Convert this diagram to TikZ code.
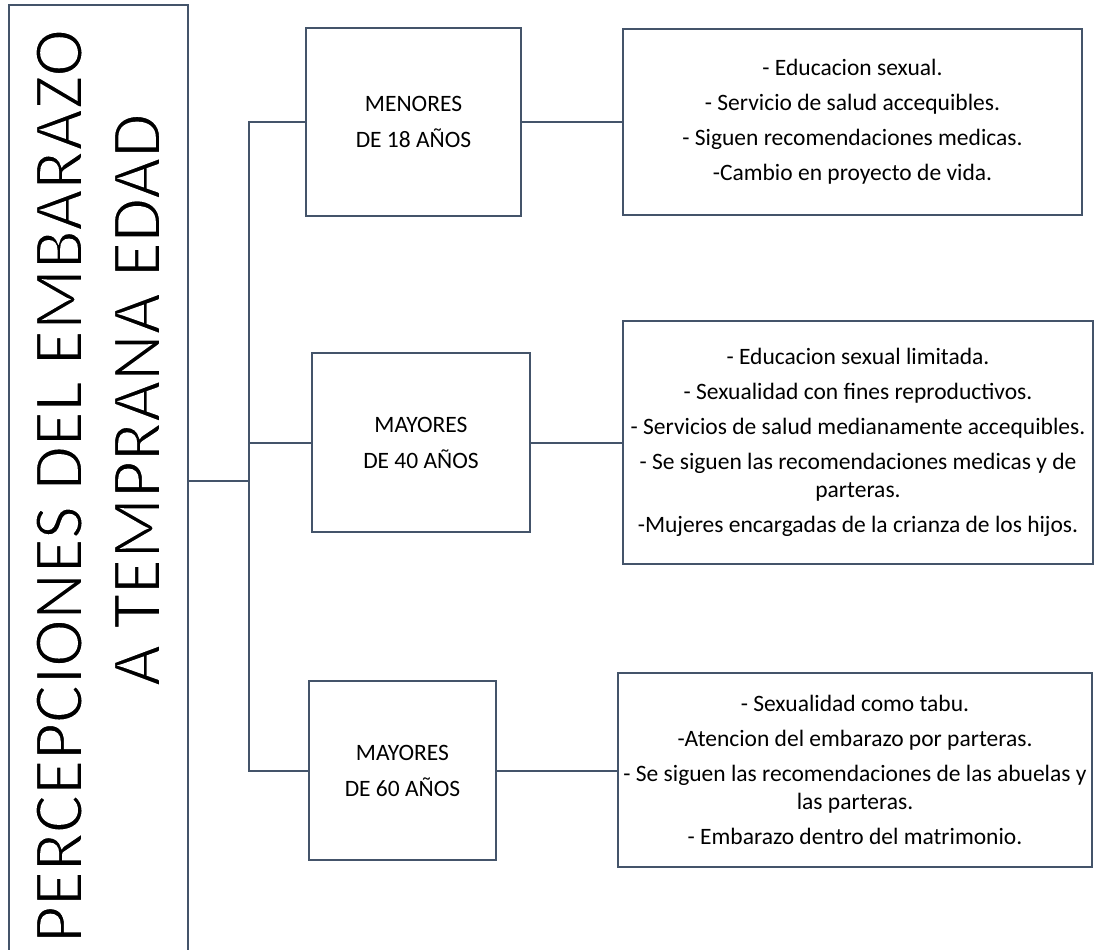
\documentclass[tikz,border=0pt]{standalone}
\usepackage{fontspec}
\setmainfont{Carlito}
\definecolor{frame}{HTML}{44546A}
\newcommand{\thintext}[1]{\special{pdf:literal direct 1 1 1 RG 1.8 w 2 Tr}#1\special{pdf:literal direct 0 Tr}}
\begin{document}
\begin{tikzpicture}[x=1pt,y=-1pt,
  box/.style={draw=frame,line width=2pt,inner sep=0pt,align=center,
    font=\fontsize{23.5}{28.7}\selectfont},
  title/.style={rotate=90,anchor=base,inner sep=0pt,
    font=\fontsize{71.5}{80}\selectfont},
  link/.style={draw=frame,line width=2pt}]
\useasboundingbox (0,0) rectangle (1101,950);
\clip (0,0) rectangle (1101,950);
% main title box
\node[box,minimum width=179pt,minimum height=952pt] (main) at (98.5,481) {};
\node[title] (t1) at (82,486) {\thintext{PERCEPCIONES DEL EMBARAZO}};
\node[title] (t2) at (160,400) {\thintext{A TEMPRANA EDAD}};
% age boxes
\node[box,minimum width=215pt,minimum height=188pt] (b1) at (413.5,122)
  {MENORES\\[7.3pt]DE 18 AÑOS};
\node[box,minimum width=218pt,minimum height=179pt] (b2) at (421,442.5)
  {MAYORES\\[7.3pt]DE 40 AÑOS};
\node[box,minimum width=187pt,minimum height=179pt] (b3) at (402.5,770.5)
  {MAYORES\\[7.3pt]DE 60 AÑOS};
% detail boxes
\node[box,minimum width=459pt,minimum height=186pt] (r1) at (852.5,122)
  {- Educacion sexual.\\[6.3pt]- Servicio de salud accequibles.\\[6.3pt]- Siguen recomendaciones medicas.\\[6.3pt]-Cambio en proyecto de vida.};
\node[box,minimum width=470pt,minimum height=243pt] (r2) at (858,442.5)
  {- Educacion sexual limitada.\\[6.3pt]- Sexualidad con fines reproductivos.\\[6.3pt]- Servicios de salud medianamente accequibles.\\[6.3pt]- Se siguen las recomendaciones medicas y de\\parteras.\\[6.3pt]-Mujeres encargadas de la crianza de los hijos.};
\node[box,minimum width=474pt,minimum height=194pt] (r3) at (855,770)
  {- Sexualidad como tabu.\\[6.3pt]-Atencion del embarazo por parteras.\\[6.3pt]- Se siguen las recomendaciones de las abuelas y\\las parteras.\\[6.3pt]- Embarazo dentro del matrimonio.};
% connectors
\coordinate (j) at (249,481);
\draw[link] (main.east) -- (j);
\draw[link] (b1.west) -| (j) |- (b3.west);
\draw[link] (b2.west) -- (b2.west -| j);
\draw[link] (b1.east) -- (r1.west);
\draw[link] (b2.east) -- (r2.west);
\draw[link] (b3.east) -- (b3.east -| r3.west);
\end{tikzpicture}
\end{document}
